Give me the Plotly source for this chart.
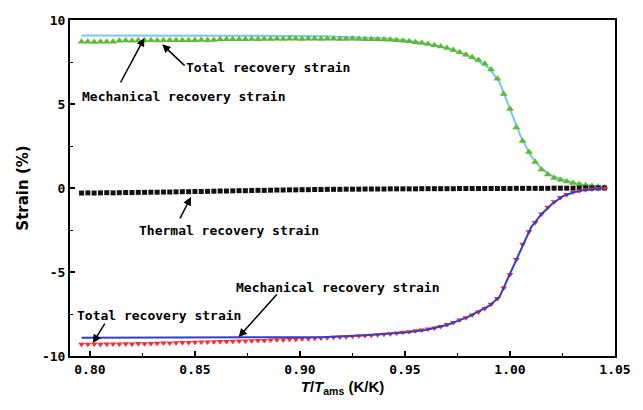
import plotly.graph_objects as go

# Shared temperature grid (T/T_ams) for the measured marker series
t_meas = [0.796, 0.799, 0.802, 0.805, 0.808, 0.811, 0.814, 0.817, 0.820, 0.823,
          0.826, 0.829, 0.832, 0.835, 0.838, 0.841, 0.844, 0.847, 0.850, 0.853,
          0.856, 0.859, 0.862, 0.865, 0.868, 0.871, 0.874, 0.877, 0.880, 0.883,
          0.886, 0.889, 0.892, 0.895, 0.898, 0.901, 0.904, 0.907, 0.910, 0.913,
          0.916, 0.919, 0.922, 0.925, 0.928, 0.931, 0.934, 0.937, 0.940, 0.943,
          0.946, 0.949, 0.952, 0.955, 0.958, 0.961, 0.964, 0.967, 0.970, 0.973,
          0.976, 0.979, 0.982, 0.985, 0.988, 0.991, 0.994, 0.997, 1.000, 1.003,
          1.006, 1.009, 1.012, 1.015, 1.018, 1.021, 1.024, 1.027, 1.030, 1.033,
          1.036, 1.039, 1.042, 1.045]

# Mechanical recovery strain (heating, upper branch) - green triangles
mech_up = [8.70, 8.71, 8.69, 8.70, 8.71, 8.70, 8.77, 8.78, 8.77, 8.79,
           8.78, 8.79, 8.78, 8.79, 8.80, 8.79, 8.80, 8.79, 8.80, 8.81,
           8.80, 8.81, 8.85, 8.86, 8.85, 8.86, 8.86, 8.87, 8.86, 8.87,
           8.87, 8.88, 8.87, 8.88, 8.88, 8.87, 8.88, 8.88, 8.87, 8.88,
           8.88, 8.87, 8.87, 8.88, 8.87, 8.86, 8.86, 8.85, 8.84, 8.82,
           8.80, 8.77, 8.73, 8.68, 8.63, 8.57, 8.50, 8.42, 8.33, 8.22,
           8.08, 7.93, 7.78, 7.62, 7.40, 7.05, 6.50, 5.60, 4.70, 3.60,
           2.80, 2.15, 1.55, 1.10, 0.80, 0.60, 0.47, 0.38, 0.30, 0.22,
           0.16, 0.12, 0.08, 0.05]

# Thermal recovery strain - black squares
thermal = [-0.30, -0.29, -0.30, -0.29, -0.28, -0.29, -0.28, -0.27, -0.27, -0.26,
           -0.26, -0.25, -0.25, -0.24, -0.24, -0.23, -0.22, -0.22, -0.21, -0.21,
           -0.20, -0.19, -0.18, -0.18, -0.17, -0.16, -0.16, -0.15, -0.14, -0.14,
           -0.13, -0.12, -0.12, -0.11, -0.11, -0.10, -0.10, -0.09, -0.09, -0.08,
           -0.08, -0.08, -0.07, -0.07, -0.07, -0.06, -0.06, -0.06, -0.06, -0.05,
           -0.05, -0.05, -0.05, -0.05, -0.04, -0.04, -0.04, -0.04, -0.04, -0.04,
           -0.03, -0.03, -0.03, -0.03, -0.03, -0.03, -0.03, -0.03, -0.03, -0.02,
           -0.02, -0.02, -0.02, -0.02, -0.02, -0.01, -0.01, -0.01, -0.01, -0.01,
           0.00, 0.00, 0.00, 0.00]

# Total recovery strain (lower branch) - red markers
total_low = [-9.30, -9.30, -9.29, -9.30, -9.28, -9.29, -9.28, -9.27, -9.28, -9.26,
             -9.27, -9.25, -9.24, -9.22, -9.23, -9.21, -9.20, -9.19, -9.18, -9.17,
             -9.16, -9.15, -9.14, -9.13, -9.12, -9.11, -9.10, -9.09, -9.08, -9.07,
             -9.05, -9.04, -9.03, -9.01, -9.00, -8.98, -8.97, -8.95, -8.93, -8.91,
             -8.89, -8.87, -8.85, -8.83, -8.80, -8.78, -8.76, -8.73, -8.70, -8.67,
             -8.63, -8.59, -8.55, -8.50, -8.45, -8.40, -8.33, -8.24, -8.13, -8.00,
             -7.86, -7.72, -7.56, -7.38, -7.18, -6.92, -6.58, -5.95, -5.15, -4.25,
             -3.35, -2.60, -2.05, -1.55, -1.15, -0.82, -0.56, -0.38, -0.24, -0.16,
             -0.10, -0.06, -0.03, -0.01]

# Total recovery strain (upper branch) - cyan line
t_total_up = [0.796, 0.82, 0.85, 0.88, 0.91, 0.93, 0.94, 0.95, 0.96, 0.97,
              0.98, 0.985, 0.99, 0.995, 1.0, 1.005, 1.01, 1.015, 1.02, 1.025,
              1.03, 1.035, 1.04, 1.045]
total_up = [9.08, 9.08, 9.07, 9.06, 9.03, 8.98, 8.92, 8.80, 8.60, 8.33,
            7.88, 7.55, 7.15, 6.30, 4.75, 3.10, 1.90, 1.15, 0.72, 0.50,
            0.32, 0.20, 0.12, 0.07]

# Mechanical recovery strain (lower branch) - blue line
t_mech_low = [0.796, 0.83, 0.86, 0.89, 0.91, 0.93, 0.95, 0.96, 0.97, 0.98,
              0.99, 0.995, 1.0, 1.005, 1.01, 1.015, 1.02, 1.025, 1.03, 1.035,
              1.04, 1.045]
mech_low = [-8.92, -8.92, -8.91, -8.90, -8.88, -8.78, -8.60, -8.45, -8.16, -7.67,
            -7.02, -6.48, -5.10, -3.65, -2.35, -1.55, -0.95, -0.50, -0.27, -0.14,
            -0.06, -0.02]

x_ticks = [0.80, 0.85, 0.90, 0.95, 1.00, 1.05]
x_tick_text = ["0.80", "0.85", "0.90", "0.95", "1.00", "1.05"]
y_ticks = [-10, -5, 0, 5, 10]
y_tick_text = ["-10", "-5", "0", "5", "10"]

MONO = "DejaVu Sans Mono"

fig = go.Figure()
fig.add_trace(go.Scatter(x=t_total_up, y=total_up, mode="lines",
                         line=dict(color="#74c8ea", width=2), name="Total recovery strain"))
fig.add_trace(go.Scatter(x=t_meas, y=mech_up, mode="markers",
                         marker=dict(symbol="triangle-up", size=7, color="#5dbb2f"),
                         name="Mechanical recovery strain"))
fig.add_trace(go.Scatter(x=t_meas, y=thermal, mode="markers",
                         marker=dict(symbol="square", size=5, color="#111111"),
                         name="Thermal recovery strain"))
fig.add_trace(go.Scatter(x=t_meas, y=total_low, mode="markers",
                         marker=dict(symbol="triangle-down", size=6, color="#ff2a2a"),
                         name="Total recovery strain"))
fig.add_trace(go.Scatter(x=t_mech_low, y=mech_low, mode="lines",
                         line=dict(color="#3040c8", width=2), name="Mechanical recovery strain"))

labels = [
    ("Total recovery strain", 0.8849, 7.2),
    ("Mechanical recovery strain", 0.8448, 5.42),
    ("Thermal recovery strain", 0.866, -2.5),
    ("Mechanical recovery strain", 0.918, -5.95),
    ("Total recovery strain", 0.833, -7.56),
]
arrows = [
    (0.8458, 7.2, 0.8344, 8.55),
    (0.8142, 6.19, 0.8259, 8.93),
    (0.8425, -1.9, 0.8481, -0.54),
    (0.8896, -6.25, 0.8708, -8.87),
    (0.8075, -7.98, 0.8014, -9.23),
]
for txt, lx, ly in labels:
    fig.add_annotation(x=lx, y=ly, xref="x", yref="y", text=txt, showarrow=False,
                       font=dict(family=MONO, size=13, color="black", weight="bold"))
for tx, ty, hx, hy in arrows:
    fig.add_annotation(x=hx, y=hy, ax=tx, ay=ty, xref="x", yref="y", axref="x", ayref="y",
                       text="", showarrow=True, arrowhead=2, arrowsize=1.1,
                       arrowwidth=1.5, arrowcolor="black")

fig.update_layout(
    width=643, height=410,
    margin=dict(l=70, r=21, t=20, b=54),
    paper_bgcolor="white", plot_bgcolor="white",
    showlegend=False,
)
fig.update_xaxes(
    range=[0.7905, 1.05], tickvals=x_ticks, ticktext=x_tick_text,
    ticks="inside", ticklen=5, tickwidth=1.5, tickcolor="black",
    minor=dict(ticks="inside", ticklen=3, dtick=0.025, tick0=0.8, tickcolor="black", tickwidth=1.2),
    showline=True, linecolor="black", linewidth=2, mirror=True,
    showgrid=False, zeroline=False,
    tickfont=dict(family=MONO, size=13, color="black", weight="bold"),
    title=dict(text="<i>T</i>/<i>T</i><sub>ams</sub> (K/K)", standoff=6,
               font=dict(family="Liberation Sans", size=15, color="black", weight="bold")),
)
fig.update_yaxes(
    range=[-10, 10], tickvals=y_ticks, ticktext=y_tick_text,
    ticks="inside", ticklen=5, tickwidth=1.5, tickcolor="black",
    minor=dict(ticks="inside", ticklen=3, dtick=2.5, tick0=0, tickcolor="black", tickwidth=1.2),
    showline=True, linecolor="black", linewidth=2, mirror=True,
    showgrid=False, zeroline=False,
    tickfont=dict(family=MONO, size=13, color="black", weight="bold"),
    title=dict(text="Strain (%)", standoff=10,
               font=dict(family="DejaVu Sans", size=15, color="black", weight="bold")),
)

fig.write_html("out.html")
